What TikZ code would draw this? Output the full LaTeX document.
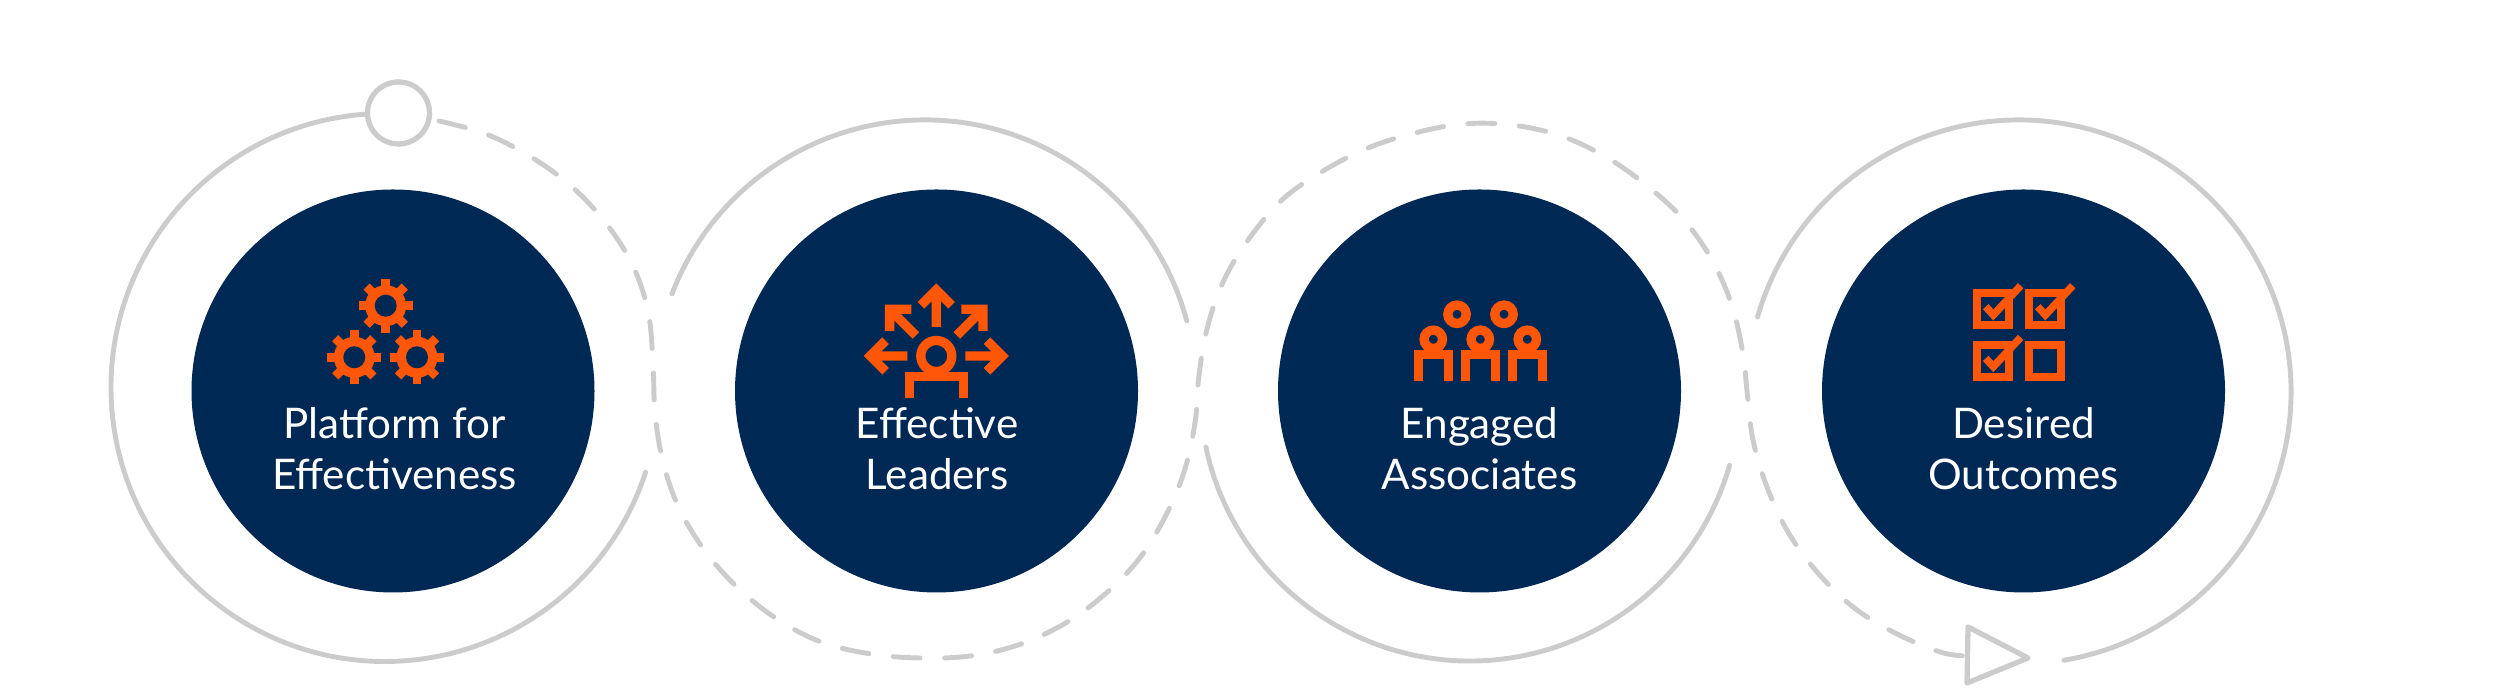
\documentclass[tikz,border=0pt]{standalone}
\usepackage{fontspec}
\setmainfont{Lato}
\usetikzlibrary{arrows.meta,positioning,calc}
\definecolor{navycolor}{RGB}{0,40,85}
\definecolor{orangecolor}{RGB}{255,86,8}
\definecolor{ringcolor}{RGB}{204,204,204}
% small pictograms, each placed by its centre
\newcommand{\gearicon}[2]{%
  \begin{scope}[shift={(#1,#2)}]
    \foreach \a in {0,45,...,315} \fill[orangecolor, rotate=\a] (-0.044,0) rectangle (0.044,0.27);
    \fill[orangecolor] (0,0) circle (0.205);
    \fill[navycolor] (0,0) circle (0.11);
  \end{scope}}
\newcommand{\checkbox}[2]{\draw[iconline, line width=0.08cm] (#1-0.16,#2-0.16) rectangle (#1+0.16,#2+0.16);}
\newcommand{\checktick}[2]{\draw[iconline, line width=0.075cm] (#1-0.076,#2+0.026) -- (#1,#2-0.057) -- (#1+0.274,#2+0.236);}
\begin{document}
\begin{tikzpicture}[
    disc/.style={circle, fill=navycolor, minimum size=4.03cm, inner sep=0pt},
    disclabel/.style={align=center, text=white, font=\fontsize{12}{14.5}\selectfont},
    ringline/.style={ringcolor, line width=1.4pt, line cap=round},
    dashline/.style={ringline, dash pattern=on 0.27cm off 0.245cm},
    iconline/.style={orangecolor, line width=0.093cm, miter limit=10}]
    \useasboundingbox (0,0) rectangle (25,6.94);
    % --- Solid arcs round the discs ---
    \draw[ringline] (3.85,3.065) ++(94:2.74) arc[start angle=94, end angle=342, radius=2.74];
    \draw[ringline] (9.25,3.03) ++(159:2.71) arc[start angle=159, end angle=15, radius=2.71];
    \draw[ringline] (14.70,3.03) ++(192:2.70) arc[start angle=192, end angle=344, radius=2.70];
    \draw[ringline] (20.19,3.02) ++(164:2.72) arc[start angle=164, end angle=-80.5, radius=2.72];
    % --- Dashed wave ---
    \draw[dashline] plot[smooth, tension=0.6] coordinates {
      (4.39,5.73) (4.86,5.60) (5.31,5.37) (5.71,5.08) (6.05,4.72) (6.32,4.30) (6.48,3.83)
      (6.53,3.31) (6.55,2.81) (6.63,2.32) (6.79,1.86) (7.05,1.43) (7.38,1.06) (7.77,0.75)
      (8.21,0.52) (8.71,0.40) (9.20,0.36) (9.70,0.38) (10.18,0.49) (10.64,0.70) (11.04,0.99)
      (11.39,1.35) (11.65,1.77) (11.84,2.22) (11.95,2.71) (11.99,3.19) (12.08,3.69) (12.25,4.16)
      (12.51,4.58) (12.83,4.95) (13.23,5.23) (13.68,5.46) (14.15,5.61) (14.63,5.70) (15.12,5.69)
      (15.61,5.58) (16.06,5.37) (16.46,5.09) (16.83,4.75) (17.12,4.34) (17.32,3.88) (17.43,3.40)
      (17.47,3.03) (17.53,2.54) (17.67,2.07) (17.88,1.62) (18.17,1.22) (18.53,0.87) (18.95,0.61)
      (19.40,0.42) (19.66,0.38)};
    % --- Start ring and end triangle ---
    \node[circle, draw=ringcolor, line width=1.5pt, fill=white, minimum size=0.62cm, inner sep=0pt] (startring) at (3.985,5.81) {};
    \draw[ringline, line width=1.5pt, line join=round] (19.68,0.67) -- (20.28,0.36) -- (19.67,0.11) -- cycle;
    % --- Discs ---
    \node[disc] (disc1) at (3.93,3.03) {};
    \node[disc] (disc2) at (9.365,3.03) {};
    \node[disc] (disc3) at (14.795,3.03) {};
    \node[disc] (disc4) at (20.235,3.03) {};
    % --- Labels ---
    \node[disclabel] (platform) at (3.945,2.455) {Platform for\\Effectiveness};
    \node[disclabel] (leaders) at (9.37,2.455) {Effective\\Leaders};
    \node[disclabel] (associates) at (14.795,2.455) {Engaged\\Associates};
    \node[disclabel] (outcomes) at (20.235,2.455) {Desired\\Outcomes};
    % --- Gears ---
    \gearicon{3.857}{3.883} \gearicon{3.543}{3.367} \gearicon{4.17}{3.367}
    % --- Leader with five arrows ---
    \begin{scope}[shift={(9.363,3.38)}]
      \foreach \a in {0,45,...,180}
        \draw[iconline, rotate=\a] (0.29,0) -- (0.66,0) (0.507,0.153) -- (0.66,0) -- (0.507,-0.153);
    \end{scope}
    \draw[iconline] (9.363,3.38) circle (0.155);
    \draw[iconline] (9.093,2.96) |- (9.633,3.175) -- (9.633,2.96);
    % --- Associates ---
    \foreach \x in {14.57,15.04} \draw[iconline] (\x,3.797) circle (0.092);
    \foreach \x in {14.333,14.803,15.273} {
      \draw[iconline] (\x,3.547) circle (0.092);
      \draw[iconline] (\x-0.151,3.133) |- (\x+0.151,3.392) -- (\x+0.151,3.133);
    }
    % --- Check boxes ---
    \checkbox{19.933}{3.847} \checkbox{20.453}{3.847} \checkbox{19.933}{3.33} \checkbox{20.453}{3.33}
    \checktick{19.933}{3.847} \checktick{20.453}{3.847} \checktick{19.933}{3.33}
  \end{tikzpicture}
\end{document}
